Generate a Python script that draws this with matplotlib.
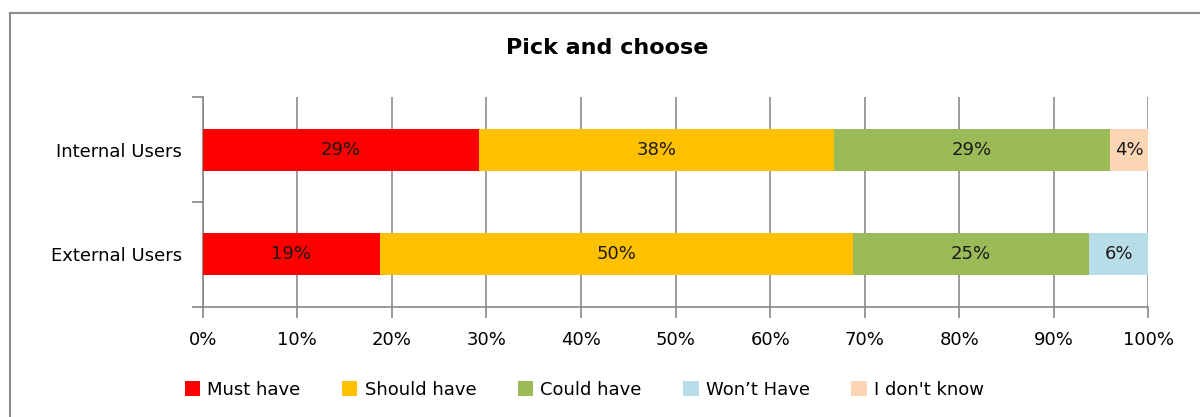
import matplotlib.pyplot as plt
from matplotlib.lines import Line2D
from matplotlib.ticker import FuncFormatter, MultipleLocator

# values (fraction of responses, %)
groups = ["Internal Users", "External Users"]
series = ["Must have", "Should have", "Could have", "Won\u2019t Have", "I don't know"]
must_have = [29.2, 18.75]
should_have = [37.5, 50.0]
could_have = [29.2, 25.0]
wont_have = [0.0, 6.25]
dont_know = [4.1, 0.0]
labels = [
    ["29%", "19%"],
    ["38%", "50%"],
    ["29%", "25%"],
    ["", "6%"],
    ["4%", ""],
]
colors = ["#ff0000", "#ffc000", "#9bbb59", "#b7dee8", "#fcd5b5"]

plt.rcParams["font.family"] = ["DejaVu Sans"]
fs = 13

fig = plt.figure(figsize=(12, 4.17), dpi=100)
ax = fig.add_axes([0.169, 0.264, 0.788, 0.503])

ypos = [0.5, -0.5]
left = [0.0, 0.0]
for name, vals, col, labs in zip(
    series, [must_have, should_have, could_have, wont_have, dont_know], colors, labels
):
    bars = ax.barh(ypos, vals, left=left, height=0.4, color=col, label=name, zorder=3)
    for b, lab in zip(bars, labs):
        if lab and b.get_width() > 0:
            ax.text(
                b.get_x() + b.get_width() / 2,
                b.get_y() + b.get_height() / 2,
                lab,
                ha="center",
                va="center",
                fontsize=fs,
                color="#1a1a1a",
                zorder=4,
            )
    left = [l + v for l, v in zip(left, vals)]

ax.set_xlim(0, 100)
ax.set_ylim(-1, 1)
ax.xaxis.set_major_locator(MultipleLocator(10))
ax.xaxis.set_major_formatter(FuncFormatter(lambda v, p: "{:.0f}%".format(v)))
ax.set_yticks([-1, 0, 1])
ax.set_yticklabels([])
ax.set_yticks(ypos, minor=True)
ax.set_yticklabels(groups, minor=True)
ax.tick_params(axis="y", which="minor", length=0, pad=15, labelsize=fs)
ax.tick_params(axis="y", which="major", length=8, width=1.2, color="#888888")
ax.tick_params(axis="x", length=8, width=1.2, color="#888888", pad=9, labelsize=fs)
ax.grid(axis="x", color="#8c8c8c", linewidth=1.2, zorder=0)
for s in ["top", "right"]:
    ax.spines[s].set_visible(False)
for s in ["left", "bottom"]:
    ax.spines[s].set_color("#888888")
    ax.spines[s].set_linewidth(1.2)

fig.text(0.506, 0.885, "Pick and choose", ha="center", va="center",
         fontsize=16, fontweight="bold")

fig.legend(
    loc="center",
    bbox_to_anchor=(0.487, 0.065),
    ncol=5,
    frameon=False,
    fontsize=fs,
    handlelength=0.85,
    handleheight=0.85,
    handletextpad=0.4,
    columnspacing=2.3,
)

# chart frame (only top and left edges are visible in the crop)
fig.add_artist(Line2D([0.008, 0.008], [0.0, 0.968], color="#8c8c8c", lw=1.5))
fig.add_artist(Line2D([0.008, 1.0], [0.968, 0.968], color="#8c8c8c", lw=1.5))

fig.savefig("out.png", dpi=100)
